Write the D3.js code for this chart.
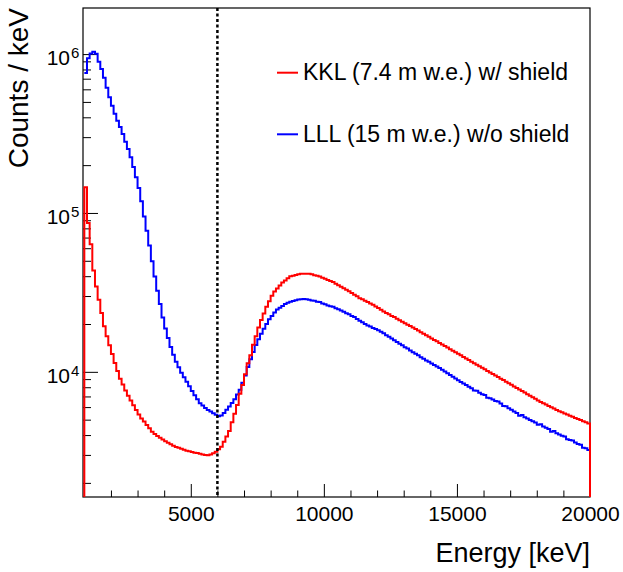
<!DOCTYPE html>
<html>
<head>
<meta charset="utf-8">
<script src="https://cdn.jsdelivr.net/npm/d3@7"></script>
<style>
  body { margin: 0; background: #fff; }
  svg { font-family: "Liberation Sans", Arial, sans-serif; }
</style>
</head>
<body>
<svg class="chart" width="623" height="572"></svg>
<script>
// histogram binning (keV)
const binStart = 1000;
const binWidth = 100;

// KKL (7.4 m w.e.) w/ shield, counts / keV per bin
const kklCounts = [
  145000, 86500, 63500, 43400, 34400, 28400, 23500, 19350, 16720, 14700,
  12940, 11370, 10130, 9050, 8310, 7620, 7060, 6590, 6160, 5760,
  5380, 5090, 4860, 4630, 4410, 4200, 4060, 3950, 3850, 3750,
  3660, 3580, 3500, 3420, 3370, 3330, 3280, 3230, 3190, 3160,
  3130, 3100, 3080, 3050, 3020, 3000, 2980, 3020, 3070, 3140,
  3260, 3380, 3630, 3920, 4240, 4810, 5450, 6180, 7280, 8270,
  9660, 11340, 12720, 14800, 16770, 19000, 21200, 23300, 25700, 27800,
  30100, 32000, 33500, 35000, 36500, 37600, 38800, 39900, 40300, 40700,
  41100, 41400, 41400, 41400, 41400, 41100, 40600, 40200, 39800, 39100,
  38500, 37900, 37300, 36700, 35900, 35100, 34300, 33600, 32800, 32100,
  31300, 30600, 29900, 29100, 28600, 28000, 27500, 26900, 26400, 25800,
  25200, 24600, 24000, 23500, 23000, 22500, 22100, 21600, 21100, 20700,
  20200, 19800, 19400, 19000, 18600, 18200, 17770, 17390, 16990, 16630,
  16240, 15890, 15550, 15200, 14870, 14530, 14220, 13890, 13580, 13280,
  12980, 12700, 12410, 12140, 11860, 11590, 11340, 11080, 10840, 10600,
  10370, 10130, 9910, 9690, 9480, 9270, 9060, 8870, 8660, 8470,
  8280, 8090, 7920, 7740, 7570, 7400, 7230, 7070, 6910, 6760,
  6610, 6470, 6350, 6220, 6100, 5990, 5880, 5760, 5650, 5560,
  5470, 5380, 5300, 5210, 5130, 5050, 4970, 4890, 4810, 4730
];

// LLL (15 m w.e.) w/o shield, counts / keV per bin
const lllCounts = [
  759000, 942000, 1010000, 1034000, 1004000, 896000, 807000, 710000, 614000, 535000,
  473000, 421000, 381000, 347000, 314000, 281000, 253000, 224000, 195000, 168000,
  143400, 118500, 94900, 77200, 62300, 49600, 39800, 32400, 26700, 22000,
  18750, 16320, 14340, 12830, 11590, 10670, 9880, 9250, 8660, 8100,
  7570, 7110, 6710, 6350, 6130, 5920, 5760, 5630, 5490, 5360,
  5260, 5310, 5510, 5770, 6060, 6360, 6730, 7210, 7700, 8540,
  9490, 10710, 12020, 13320, 14740, 16030, 17340, 18700, 20000, 21400,
  22500, 23600, 24700, 25300, 26000, 26700, 27200, 27600, 27900, 28200,
  28500, 28600, 28700, 28600, 28400, 28100, 28000, 27600, 27500, 26900,
  26600, 26200, 25900, 25700, 25100, 24800, 24300, 23900, 23400, 23000,
  22500, 22100, 21500, 21000, 20500, 20000, 19600, 19300, 18900, 18600,
  18300, 17900, 17500, 17000, 16600, 16200, 15800, 15400, 15000, 14700,
  14300, 14000, 13600, 13300, 13000, 12700, 12370, 12100, 11800, 11570,
  11300, 11060, 10810, 10580, 10320, 10060, 9800, 9560, 9320, 9080,
  8840, 8630, 8430, 8250, 8060, 7890, 7620, 7600, 7380, 7230,
  7150, 6880, 6820, 6700, 6560, 6500, 6310, 6100, 6080, 5900,
  5770, 5630, 5510, 5300, 5350, 5180, 5080, 4980, 4890, 4800,
  4650, 4680, 4530, 4440, 4360, 4200, 4240, 4110, 4030, 3960,
  3920, 3760, 3730, 3700, 3590, 3520, 3480, 3330, 3300, 3220
];

const xDomain = [950, 20000];
const yDomain = [1630, 1950000];
const xMajorTicks = [5000, 10000, 15000, 20000];
const yDecades = [1e4, 1e5, 1e6];
const cutEnergy = 6000;
const legendLabels = ['KKL (7.4 m w.e.) w/ shield', 'LLL (15 m w.e.) w/o shield'];

const padLeft = 83, padRight = 590, padTop = 8, padBottom = 497;

const svg = d3.select('.chart');

const x = d3.scaleLinear().domain(xDomain).range([padLeft, padRight]);
const y = d3.scaleLog().domain(yDomain).range([padBottom, padTop]);

svg.append('clipPath')
  .attr('id', 'plot-clip')
  .append('rect')
  .attr('x', padLeft)
  .attr('y', padTop)
  .attr('width', padRight - padLeft)
  .attr('height', padBottom - padTop);

const histPoints = (counts, closed) => {
  let pts = [];
  counts.forEach((c, i) => {
    let lo = binStart + i * binWidth;
    pts.push([lo, c]);
    pts.push([lo + binWidth, c]);
  });
  if (closed) {
    let end = binStart + counts.length * binWidth;
    pts.unshift([binStart, yDomain[0]]);
    pts.push([end, yDomain[0]]);
  }
  return pts;
};

const line = d3.line()
  .x(d => x(d[0]))
  .y(d => y(d[1]));

// x axis ticks (inside the frame)
const xMinorTicks = d3.range(2000, 20001, 1000).filter(v => !xMajorTicks.includes(v));

const xMinor = svg.append('g')
  .attr('transform', `translate(0,${padBottom})`)
  .call(d3.axisBottom(x).tickValues(xMinorTicks).tickSize(-6.5).tickFormat(''));
xMinor.select('.domain').remove();

const xMajor = svg.append('g')
  .attr('transform', `translate(0,${padBottom})`)
  .call(d3.axisBottom(x).tickValues(xMajorTicks).tickSize(-13).tickPadding(9).tickFormat(d3.format('d')));
xMajor.select('.domain').remove();
xMajor.selectAll('text')
  .attr('font-size', 21)
  .attr('font-family', '"Liberation Sans", Arial, sans-serif')
  .attr('fill', 'black');

// y axis ticks
let yMinorTicks = [];
[1e3, 1e4, 1e5, 1e6].forEach(d => {
  for (let m = 2; m <= 9; m++) {
    let v = d * m;
    if (v > yDomain[0] && v < yDomain[1]) yMinorTicks.push(v);
  }
});

const yMinor = svg.append('g')
  .attr('transform', `translate(${padLeft},0)`)
  .call(d3.axisLeft(y).tickValues(yMinorTicks).tickSize(-8).tickFormat(''));
yMinor.select('.domain').remove();

const yMajor = svg.append('g')
  .attr('transform', `translate(${padLeft},0)`)
  .call(d3.axisLeft(y).tickValues(yDecades).tickSize(-15).tickFormat(''));
yMajor.select('.domain').remove();

svg.selectAll('.tick line').attr('stroke', 'black').attr('stroke-width', 1);

const yLabels = svg.append('g').selectAll('g')
  .data(yDecades)
  .enter()
  .append('g');

yLabels.append('text')
  .attr('x', 70)
  .attr('y', d => y(d) + 11)
  .attr('text-anchor', 'end')
  .attr('font-size', 21)
  .text('10');

yLabels.append('text')
  .attr('x', 71)
  .attr('y', d => y(d) + 4)
  .attr('font-size', 15)
  .text(d => Math.round(Math.log10(d)));

// histograms
const plot = svg.append('g').attr('clip-path', 'url(#plot-clip)');

plot.append('path')
  .attr('d', line(histPoints(lllCounts, false)))
  .attr('fill', 'none')
  .attr('stroke', '#0000ff')
  .attr('stroke-width', 2);

// frame
svg.append('rect')
  .attr('x', padLeft)
  .attr('y', padTop)
  .attr('width', padRight - padLeft)
  .attr('height', padBottom - padTop)
  .attr('fill', 'none')
  .attr('stroke', 'black')
  .attr('stroke-width', 1.2);

svg.append('path')
  .attr('d', line(histPoints(kklCounts, true)))
  .attr('fill', 'none')
  .attr('stroke', '#ff0000')
  .attr('stroke-width', 2);

// cut line
svg.append('line')
  .attr('x1', x(cutEnergy))
  .attr('x2', x(cutEnergy))
  .attr('y1', padTop)
  .attr('y2', padBottom)
  .attr('stroke', 'black')
  .attr('stroke-width', 2.5)
  .attr('stroke-dasharray', '3,2.5');

// axis titles
svg.append('text')
  .attr('x', padRight)
  .attr('y', 562)
  .attr('text-anchor', 'end')
  .attr('font-size', 27)
  .text('Energy [keV]');

svg.append('text')
  .attr('transform', 'translate(28,8) rotate(-90)')
  .attr('text-anchor', 'end')
  .attr('font-size', 28)
  .text('Counts / keV');

// legend
const legendColors = ['#ff0000', '#0000ff'];
const legendRows = [72.7, 134.3];

legendLabels.forEach((label, i) => {
  svg.append('line')
    .attr('x1', 277)
    .attr('x2', 298)
    .attr('y1', legendRows[i])
    .attr('y2', legendRows[i])
    .attr('stroke', legendColors[i])
    .attr('stroke-width', 2);

  svg.append('text')
    .attr('x', 303)
    .attr('y', legendRows[i] + 7.5)
    .attr('font-size', 23)
    .text(label);
});
</script>
</body>
</html>
